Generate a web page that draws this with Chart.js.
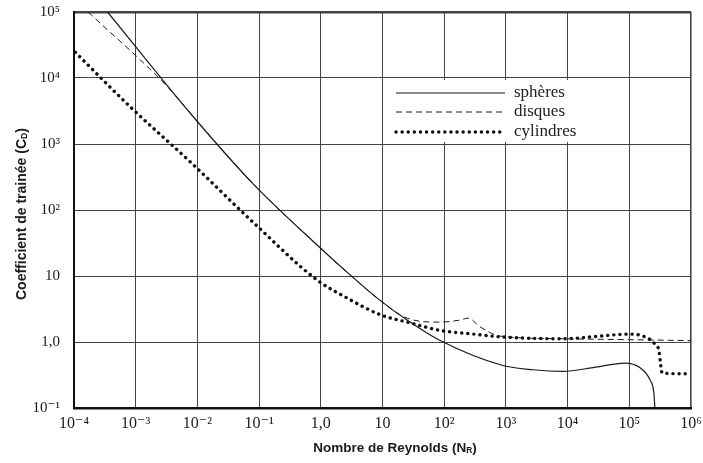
<!DOCTYPE html>
<html>
<head>
<meta charset="utf-8">
<script src="https://cdn.jsdelivr.net/npm/chart.js@4/dist/chart.umd.min.js"></script>
<style>
  html, body { margin: 0; padding: 0; background: #fff; }
  #wrap { position: relative; width: 703px; height: 463px; background: #fff; }
  #c { position: absolute; left: 0; top: 0; }
  .ttl { position: absolute; font-family: "Liberation Sans", Arial, sans-serif; font-weight: bold; color: #1a1a1a; white-space: nowrap; }
  .ttl .s { font-size: 0.62em; vertical-align: -1px; }
  #ytitle { left: 21px; top: 214px; font-size: 14px; transform: translate(-50%, -50%) rotate(-90deg); }
  #xtitle { left: 395px; top: 447px; font-size: 13.5px; transform: translate(-50%, -50%); }
</style>
</head>
<body>
<div id="wrap">
  <canvas id="c" width="703" height="463"></canvas>
  <div class="ttl" id="ytitle">Coefficient de trainée (C<span class="s">D</span>)</div>
  <div class="ttl" id="xtitle">Nombre de Reynolds (N<span class="s">R</span>)</div>
</div>
<script>
// Tick values and labels
const xTickValues = [1e-4, 1e-3, 1e-2, 1e-1, 1, 10, 1e2, 1e3, 1e4, 1e5, 1e6];
const xTickLabels = ['10⁻⁴', '10⁻³', '10⁻²', '10⁻¹', '1,0', '10', '10²', '10³', '10⁴', '10⁵', '10⁶'];
const yTickValues = [1e-1, 1, 10, 1e2, 1e3, 1e4, 1e5];
const yTickLabels = ['10⁻¹', '1,0', '10', '10²', '10³', '10⁴', '10⁵'];

// Series (Reynolds number, drag coefficient)
const spheresRe = [3.5e-4, 8.1e-3, 0.083, 0.87, 2.95, 8.5, 27, 83, 890, 2750, 8500, 2.6e4, 8.5e4, 1.48e5, 2.2e5, 2.5e5, 2.6e5];
const spheresCd = [1e5, 2750, 240, 29.5, 10.5, 4.5, 2.05, 1.07, 0.44, 0.38, 0.36, 0.41, 0.48, 0.41, 0.26, 0.17, 0.1];

const disquesRe = [1.7e-4, 3.3e-3, 8.1e-3, 0.083, 0.87, 2.95, 8.5, 25, 85, 180, 245, 380, 800, 8500, 1e6];
const disquesCd = [1e5, 7300, 2750, 240, 29.5, 10.5, 4.5, 2.3, 2.0, 2.15, 2.3, 1.7, 1.23, 1.12, 1.05];

const cylindresRe = [1.05e-4, 8.3e-4, 8.1e-3, 0.083, 0.87, 2.6, 9.1, 28, 85, 295, 800, 8500, 3.4e4, 1.02e5, 1.78e5, 2.6e5, 3.05e5, 3.2e5, 3.4e5, 8.7e5];
const cylindresCd = [2.45e4, 3600, 510, 63, 8.7, 4.7, 2.6, 1.95, 1.5, 1.32, 1.2, 1.12, 1.23, 1.32, 1.2, 0.93, 0.71, 0.48, 0.34, 0.33];

const seriesNames = ['sphères', 'disques', 'cylindres'];

function pts(xs, ys) { return xs.map((x, i) => ({ x: x, y: ys[i] })); }

const legendPlugin = {
  id: 'inLegend',
  beforeDatasetsDraw(chart) {
    const ctx = chart.ctx;
    ctx.save();
    ctx.fillStyle = '#ffffff';
    ctx.fillRect(390, 80, 232, 62);
    ctx.restore();
  },
  afterDatasetsDraw(chart) {
    const ctx = chart.ctx;
    const rows = [93, 112, 132];
    ctx.save();
    chart.data.datasets.forEach((ds, i) => {
      const y = rows[i];
      ctx.beginPath();
      ctx.strokeStyle = ds.borderColor;
      ctx.lineWidth = ds.borderWidth;
      ctx.setLineDash(ds.borderDash || []);
      ctx.lineCap = ds.borderCapStyle || 'butt';
      ctx.moveTo(396, y);
      ctx.lineTo(505, y);
      ctx.stroke();
      ctx.setLineDash([]);
      ctx.fillStyle = '#222';
      ctx.font = '17px "Liberation Serif", "DejaVu Serif", serif';
      ctx.textBaseline = 'middle';
      ctx.textAlign = 'left';
      ctx.fillText(ds.label, 514, y);
    });
    ctx.restore();
  }
};

new Chart(document.getElementById('c'), {
  type: 'scatter',
  data: {
    datasets: [
      { label: seriesNames[0], data: pts(spheresRe, spheresCd), showLine: true, borderColor: '#1a1a1a', borderWidth: 1.2, pointRadius: 0, cubicInterpolationMode: 'monotone' },
      { label: seriesNames[1], data: pts(disquesRe, disquesCd), showLine: true, borderColor: '#1a1a1a', borderWidth: 1, borderDash: [6, 4], pointRadius: 0, cubicInterpolationMode: 'monotone' },
      { label: seriesNames[2], data: pts(cylindresRe, cylindresCd), showLine: true, borderColor: '#111', borderWidth: 3.4, borderDash: [0.1, 6], borderCapStyle: 'round', pointRadius: 0, cubicInterpolationMode: 'monotone' }
    ]
  },
  options: {
    responsive: false,
    devicePixelRatio: 1,
    animation: false,
    layout: { padding: { left: 0, top: 12, right: 12, bottom: 0 } },
    plugins: { legend: { display: false }, tooltip: { enabled: false } },
    scales: {
      x: {
        type: 'logarithmic', min: 1e-4, max: 1e6,
        afterBuildTicks: s => { s.ticks = xTickValues.map(v => ({ value: v })); },
        afterFit: s => { s.height = 55; s.paddingLeft = 0; s.paddingRight = 0; },
        ticks: {
          autoSkip: false, maxRotation: 0, padding: 6, color: '#1a1a1a',
          font: { family: '"Liberation Serif", "DejaVu Serif", serif', size: 16 },
          callback: (v, i) => xTickLabels[i]
        },
        grid: {
          drawTicks: false, color: '#444',
          lineWidth: c => (c.tick && c.tick.value === 1e6 ? 1.6 : 1)
        },
        border: { display: true, color: '#111', width: 2.5 }
      },
      y: {
        type: 'logarithmic', min: 1e-1, max: 1e5,
        afterBuildTicks: s => { s.ticks = yTickValues.map(v => ({ value: v })); },
        afterFit: s => { s.width = 74; s.paddingTop = 0; s.paddingBottom = 0; },
        ticks: {
          autoSkip: false, padding: 14, color: '#1a1a1a',
          font: { family: '"Liberation Serif", "DejaVu Serif", serif', size: 15 },
          callback: (v, i) => yTickLabels[i]
        },
        grid: {
          drawTicks: false, color: '#444',
          lineWidth: c => (c.tick && c.tick.value === 1e5 ? 2.5 : 1)
        },
        border: { display: true, color: '#111', width: 2 }
      }
    }
  },
  plugins: [legendPlugin]
});
</script>
</body>
</html>
